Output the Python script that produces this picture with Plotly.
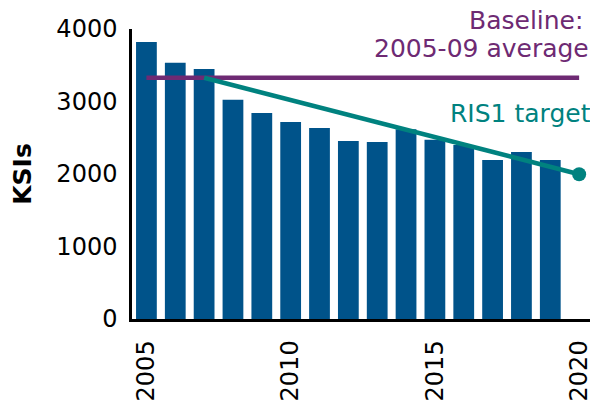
import plotly.graph_objects as go

years = list(range(2005, 2020))
ksis = [3820, 3535, 3448, 3025, 2841, 2717, 2634, 2455, 2441, 2616, 2473, 2400, 2193, 2303, 2193]

baseline_years = [2005, 2020]
baseline_values = [3328, 3328]

target_years = [2007, 2020]
target_values = [3328, 1997]

BLUE = "#00538a"
PURPLE = "#6e2a73"
TEAL = "#00827f"
FONT = "DejaVu Sans"

fig = go.Figure()
fig.add_trace(go.Bar(x=years, y=ksis, marker=dict(color=BLUE, line=dict(width=0)), width=0.72))
fig.add_trace(go.Scatter(x=baseline_years, y=baseline_values, mode="lines",
                         line=dict(color=PURPLE, width=4.5), cliponaxis=False))
fig.add_trace(go.Scatter(x=target_years, y=target_values, mode="lines+markers",
                         line=dict(color=TEAL, width=4.5), cliponaxis=False,
                         marker=dict(size=[0, 14], color=TEAL, opacity=1,
                                     line=dict(width=0))))

# page body has an 8px default margin; size the figure so the plot lands where the reference has it
fig.update_layout(
    width=590, height=393,
    margin=dict(l=124, r=3, t=21, b=82),
    plot_bgcolor="white", paper_bgcolor="white",
    showlegend=False,
    font=dict(family=FONT, color="black"),
    xaxis=dict(range=[2004.5, 2020.55], tickvals=[2005, 2010, 2015, 2020],
               ticktext=["2005", "2010", "2015", "2020"], tickangle=-90,
               tickfont=dict(size=24, family=FONT), showgrid=False, zeroline=False,
               showline=True, linecolor="black", linewidth=2.5, automargin=False,
               ticks="outside", ticklen=9, tickcolor="rgba(0,0,0,0)"),
    yaxis=dict(range=[0, 4000], tickvals=[0, 1000, 2000, 3000, 4000],
               tickfont=dict(size=24, family=FONT), showgrid=False, zeroline=False,
               showline=True, linecolor="black", linewidth=2.5, automargin=False,
               ticks="outside", ticklen=7, tickcolor="rgba(0,0,0,0)",
               title=dict(text="<b>KSIs</b>", font=dict(size=25, family=FONT), standoff=28)),
)

fig.add_annotation(xref="x", yref="paper", x=2020.22, y=1.03, xanchor="right", yanchor="middle",
                   text="Baseline:", showarrow=False,
                   font=dict(size=25, color=PURPLE, family=FONT))
fig.add_annotation(xref="x", yref="y", x=2020.4, y=3725, xanchor="right", yanchor="middle",
                   text="2005-09 average", showarrow=False,
                   font=dict(size=25, color=PURPLE, family=FONT))
fig.add_annotation(xref="x", yref="y", x=2020.47, y=2830, xanchor="right", yanchor="middle",
                   text="RIS1 target", showarrow=False,
                   font=dict(size=25, color=TEAL, family=FONT))

fig.write_html("out.html")
